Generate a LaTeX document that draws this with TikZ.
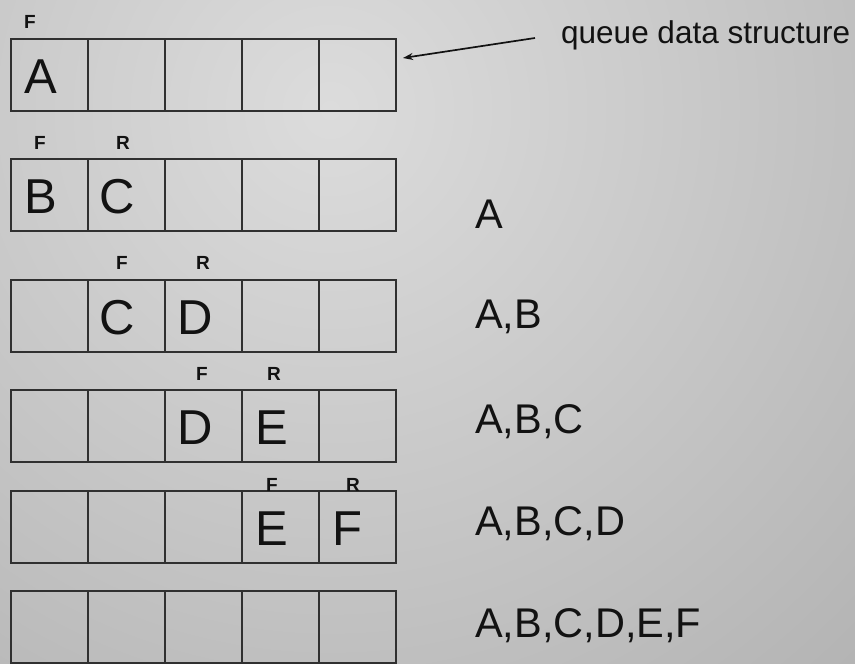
\documentclass[tikz,border=0pt]{standalone}
\usepackage{fontspec}
\setmainfont{Liberation Sans}
\usetikzlibrary{arrows.meta,calc}
\definecolor{bgin}{HTML}{DCDCDC}
\definecolor{bgout}{HTML}{8A8A8A}
\definecolor{ink}{HTML}{121212}
\definecolor{cellline}{HTML}{303030}
\begin{document}
\begin{tikzpicture}[x=1pt,y=-1pt,
  cell/.style={draw=cellline, line width=1.8pt, minimum width=77pt, minimum height=72pt, inner sep=0pt, outer sep=0pt},
  big/.style={font=\fontsize{49}{49}\selectfont, text=ink, inner sep=0pt, anchor=base},
  ptr/.style={font=\fontsize{19}{19}\selectfont\bfseries, text=ink, inner sep=0pt, anchor=base},
  hist/.style={font=\fontsize{41.5}{41.5}\selectfont, text=ink, inner sep=0pt, anchor=base west},
  note/.style={font=\fontsize{31.5}{31.5}\selectfont, text=ink, inner sep=0pt, anchor=base west},
  pointer/.style={-{Stealth[length=10pt,width=7pt]}, line width=1.7pt, draw=ink}
]
\useasboundingbox (0,0) rectangle (855,664);
\begin{scope}
  \clip (0,0) rectangle (855,664);
  \shade[inner color=bgin, outer color=bgout] (330,110) circle (1560);
\end{scope}

% queue rows
\foreach \r/\yc in {1/75,2/195,3/316,4/426,5/527,6/627}{
  \foreach \c in {1,...,5}{
    \node[cell] (c\r-\c) at ({11+77*(\c-0.5)}, \yc) {};
  }
}

% contents
\node[big] (v1a) at ($(c1-1.center)+(-9,18.5)$) {A};
\node[big] (v2b) at ($(c2-1.center)+(-9,18.5)$) {B};
\node[big] (v2c) at ($(c2-2.center)+(-9,18.5)$) {C};
\node[big] (v3c) at ($(c3-2.center)+(-9,18.5)$) {C};
\node[big] (v3d) at ($(c3-3.center)+(-8,18.5)$) {D};
\node[big] (v4d) at ($(c4-3.center)+(-8,18.5)$) {D};
\node[big] (v4e) at ($(c4-4.center)+(-9,18.5)$) {E};
\node[big] (v5e) at ($(c5-4.center)+(-9,18.5)$) {E};
\node[big] (v5f) at ($(c5-5.center)+(-10,18.5)$) {F};

% front / rear markers
\node[ptr] (f1) at (30,28) {F};
\node[ptr] (f2) at (40,149) {F};
\node[ptr] (r2) at (123,149) {R};
\node[ptr] (f3) at (122,269) {F};
\node[ptr] (r3) at (203,269) {R};
\node[ptr] (f4) at (202,380) {F};
\node[ptr] (r4) at (274,380) {R};
\node[ptr] (f5) at (272,491) {F};
\node[ptr] (r5) at (353,491) {R};

% removed items
\node[hist] (h2) at (475,228) {A};
\node[hist] (h3) at (475,328) {A,B};
\node[hist] (h4) at (475,433) {A,B,C};
\node[hist] (h5) at (475,535) {A,B,C,D};
\node[hist] (h6) at (475,637) {A,B,C,D,E,F};

% label and arrow
\node[note] (qds) at (561,43) {queue data structure};
\coordinate (tail) at ($(qds.base west)+(-26,-5)$);
\coordinate (tip) at ($(c1-5.east)+(7,-17)$);
\draw[pointer] (tail) -- (tip);
\end{tikzpicture}
\end{document}
